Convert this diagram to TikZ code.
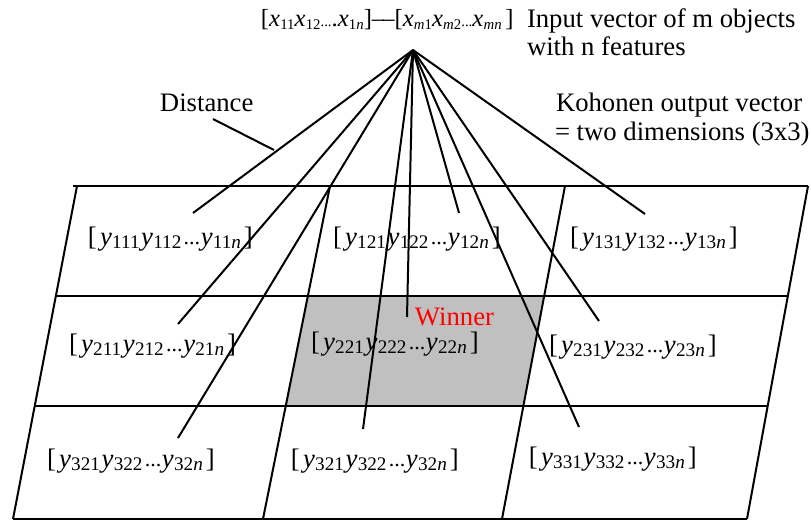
\documentclass[tikz,border=0pt]{standalone}
\usepackage{fontspec}
\setmainfont{Liberation Serif}
\definecolor{winnergray}{RGB}{192,192,192}
\newcommand{\subsz}{\fontsize{9.6}{10}\selectfont}
\newcommand{\subszx}{\fontsize{7.4}{9}\selectfont}
\newcommand{\yv}[1]{\textit{y}\kern0.01em\raisebox{-0.3ex}{\subsz #1}\kern0.06em}
\newcommand{\xv}[1]{\textit{x}\kern0.01em\raisebox{-0.3ex}{\subszx #1}}
\newcommand{\cdts}{\raisebox{0.05ex}{\fontsize{11}{11}\selectfont\kern0.03em...\kern0.03em}}
\newcommand{\xdts}{{\subszx...}}
\newcommand{\ylab}[3]{[\kern0.12em\yv{#1}\yv{#2}\cdts\yv{#3}\kern0.05em]}
\begin{document}
\begin{tikzpicture}[x=0.5pt,y=-0.5pt,
  txt/.style={inner sep=0pt,outer sep=0pt,font=\fontsize{13.35}{16}\selectfont},
  toptxt/.style={inner sep=0pt,outer sep=0pt,font=\fontsize{12.3}{15}\selectfont},
  gridline/.style={line width=1pt},
  link/.style={line width=1pt}]
\useasboundingbox (0,0) rectangle (811,521);
% grid corners
\coordinate (L0) at (77,186); \coordinate (L1) at (56,296);
\coordinate (L2) at (35,406); \coordinate (L3) at (13,519);
\coordinate (A0) at (330,186); \coordinate (A1) at (308,296);
\coordinate (A2) at (286,406); \coordinate (A3) at (263,519);
\coordinate (B0) at (565,186); \coordinate (B1) at (544,296);
\coordinate (B2) at (523,406); \coordinate (B3) at (502,519);
\coordinate (R0) at (808,186); \coordinate (R1) at (788,296);
\coordinate (R2) at (768,406); \coordinate (R3) at (747,519);
\coordinate (T0) at (73,186);
% winner cell
\fill[winnergray] (A1) -- (B1) -- (B2) -- (A2) -- cycle;
% grid
\draw[gridline] (T0) -- (R0);
\draw[gridline] (L1) -- (R1);
\draw[gridline] (L2) -- (R2);
\draw[gridline] (L3) -- (R3);
\draw[gridline] (L0) -- (L3);
\draw[gridline] (A0) -- (A3);
\draw[gridline] (B0) -- (B3);
\draw[gridline] (R0) -- (R3);
% texts
\node[toptxt,anchor=base west] (inp) at (261,26) {[\xv{11}\xv{12}\xdts.\xv{1\textit{n}}]--\kern-0.08em--[\xv{\textit{m}1}\xv{\textit{m}2}\xdts\xv{\textit{mn}}\kern0.15em]};
\node[txt,anchor=base west] (inl1) at (527,27) {Input vector of m objects};
\node[txt,anchor=base west] (inl2) at (527,55) {with n features};
\node[txt,anchor=base west] (dist) at (160,111) {Distance};
\node[txt,anchor=base west] (koh1) at (556,111) {Kohonen output vector};
\node[txt,anchor=base west] (koh2) at (555,140) {= two dimensions (3x3)};
\node[txt,anchor=base west] (c11) at (88,245) {\ylab{111}{112}{11\textit{n}}};
\node[txt,anchor=base west] (c12) at (333,245) {\ylab{121}{122}{12\textit{n}}};
\node[txt,anchor=base west] (c13) at (570,245) {\ylab{131}{132}{13\textit{n}}};
\node[txt,anchor=base west] (c21) at (69,352) {\ylab{211}{212}{21\textit{n}}};
\node[txt,anchor=base west] (c22) at (311,350) {\ylab{221}{222}{22\textit{n}}};
\node[txt,anchor=base west] (c23) at (549,353) {\ylab{231}{232}{23\textit{n}}};
\node[txt,anchor=base west] (c31) at (47,467) {\ylab{321}{322}{32\textit{n}}};
\node[txt,anchor=base west] (c32) at (291,467) {\ylab{321}{322}{32\textit{n}}};
\node[txt,anchor=base west] (c33) at (529,465) {\ylab{331}{332}{33\textit{n}}};
\node[txt,anchor=base west,text=red] (win) at (415,325) {Winner};
% connectors
\coordinate (hub) at (413,50);
\coordinate (t11) at (193,213); \coordinate (t12) at (459,213); \coordinate (t13) at (645,214);
\coordinate (t21) at (178,324); \coordinate (t22) at (407,317); \coordinate (t23) at (599,321);
\coordinate (t31) at (178,438); \coordinate (t32) at (363,429); \coordinate (t33) at (579,427);
\foreach \t in {t11,t12,t13,t21,t22,t23,t31,t32,t33} {\draw[link] (hub) -- (\t);}
\coordinate (d1) at (213,119); \coordinate (d2) at (274,150);
\draw[link] (d1) -- (d2);
\end{tikzpicture}
\end{document}
